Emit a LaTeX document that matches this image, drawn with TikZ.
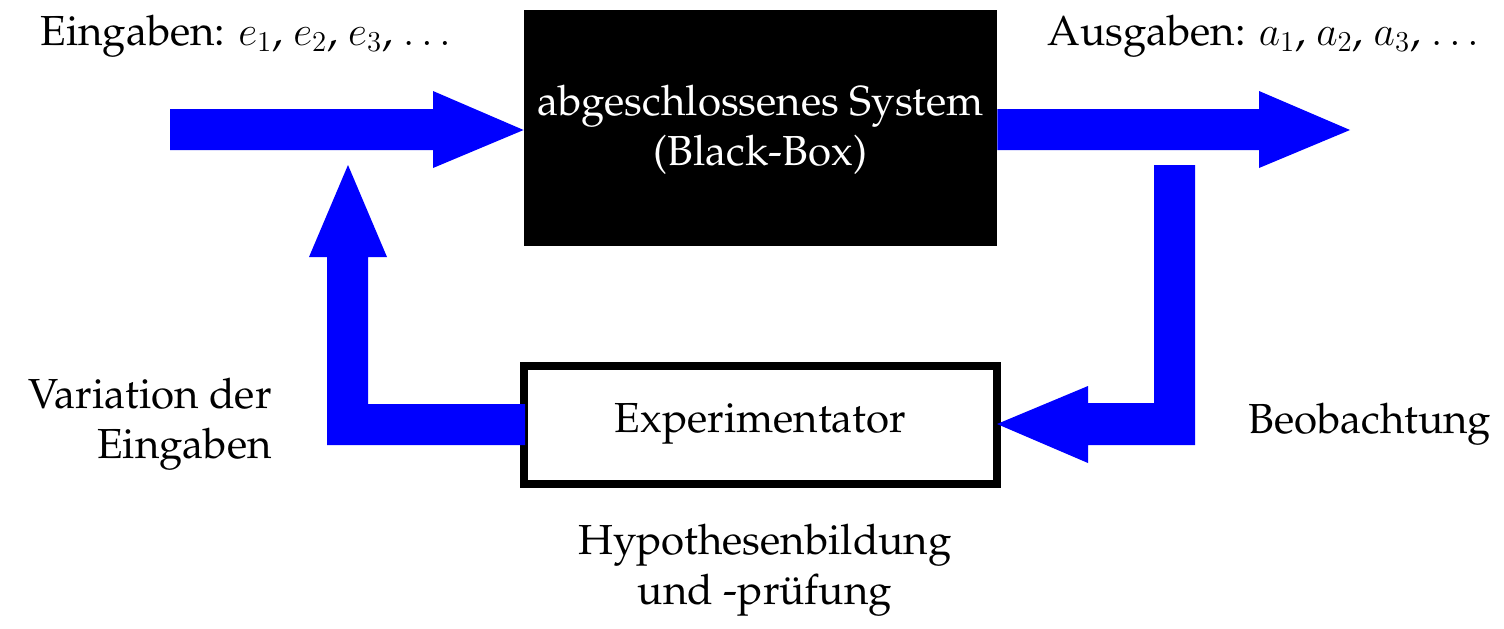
\documentclass[tikz,border=0pt]{standalone}
\usepackage[T1]{fontenc}
\usepackage{palatino}
\begin{document}
\begin{tikzpicture}[x=0.5pt,y=-0.5pt,
  lbl/.style={font=\fontsize{21}{25}\selectfont, inner sep=0pt, align=center},
  flow/.style={fill=blue, draw=none}]
\useasboundingbox (0,0) rectangle (1504,628);
% boxes
\node[fill=black, minimum width=236.5pt, minimum height=118pt, inner sep=0pt] (bb) at (760.5,128) {};
\node[lbl, text=white] (bbt) at (760.5,130) {abgeschlossenes System\\(Black-Box)};
\node[draw=black, line width=4pt, minimum width=236.5pt, minimum height=59pt, inner sep=0pt] (ex) at (760.5,425) {};
\node[lbl] (ext) at (760.5,424) {Experimentator};
% arrows
\fill[flow] (170,109) -- (433,109) -- (433,91) -- (bb.west |- 0,130) -- (433,168) -- (433,150) -- (170,150) -- cycle;
\coordinate (tip) at (1350,130);
\fill[flow] (bb.east |- 0,109) -- (1259,109) -- (1259,91) -- (tip) -- (1259,168) -- (1259,150) -- (bb.east |- 0,150) -- cycle;
\fill[flow] (1154,165) -- (1195,165) -- (1195,445) -- (1088,445) -- (1088,463) -- (997,424) -- (1088,386) -- (1088,403) -- (1154,403) -- cycle;
\fill[flow] (525,404) -- (525,445) -- (327,445) -- (327,257) -- (309,257) -- (348,165) -- (387,257) -- (368,257) -- (368,404) -- cycle;
% labels
\node[lbl, anchor=base west] (ein) at (40,45) {Eingaben: $e_1$, $e_2$, $e_3$, $\dots$};
\node[lbl, anchor=base west] (aus) at (1047,45) {Ausgaben: $a_1$, $a_2$, $a_3$, $\dots$};
\node[lbl, anchor=east, align=right] (var) at (272,424) {Variation der\\Eingaben};
\node[lbl, anchor=base west] (beo) at (1248,433) {Beobachtung};
\node[lbl] (hyp) at (765,570) {Hypothesenbildung\\und -pr\"ufung};
\end{tikzpicture}
\end{document}
